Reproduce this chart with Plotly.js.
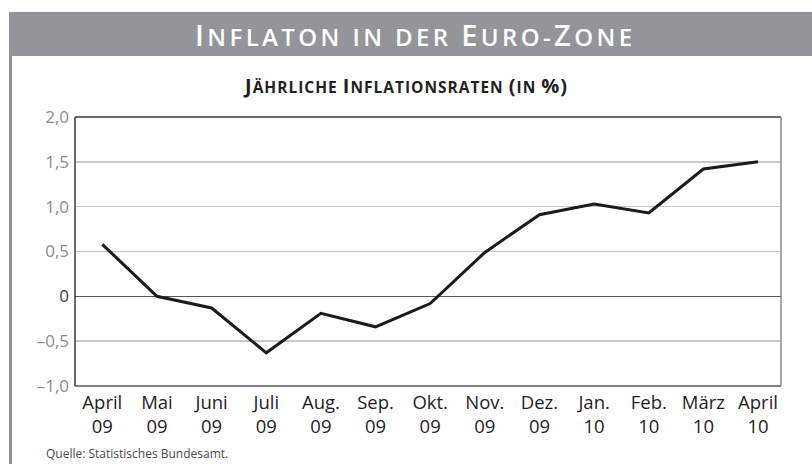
<!DOCTYPE html>
<html>
<head>
<meta charset="utf-8">
<script src="https://cdn.plot.ly/plotly-3.0.1.min.js"></script>
<style>
html,body{margin:0;padding:0;background:#fff;}
#chart{width:812px;height:464px;}
</style>
</head>
<body>
<div id="chart"></div>
<script>
const months = ["April","Mai","Juni","Juli","Aug.","Sep.","Okt.","Nov.","Dez.","Jan.","Feb.","März","April"];
const years = ["09","09","09","09","09","09","09","09","09","10","10","10","10"];
const rates = [0.58, 0.0, -0.13, -0.63, -0.19, -0.34, -0.08, 0.49, 0.91, 1.03, 0.93, 1.42, 1.5];
const yTickVals = [-1, -0.5, 0, 0.5, 1, 1.5, 2];
const yTickText = ["–1,0","–0,5","<span style='color:#3a3a3a'>0</span>","0,5","1,0","1,5","2,0"];

const categories = months.map((m, i) => m + "<br>" + years[i]);

// pixel helpers for paper coords (plot area: x 75..781, y 117..386)
const L = 75, R = 781, T = 117, B = 386;
const px = x => (x - L) / (R - L);
const py = y => (B - y) / (B - T);

const FONT = "Open Sans, Liberation Sans, sans-serif";

const trace = {
  x: categories,
  y: rates,
  type: "scatter",
  mode: "lines",
  line: {color: "#1b1b1b", width: 3},
  hoverinfo: "skip"
};

function sc(big, small, ls, parts) {
  return parts.map(p => "<span style='font-size:" + (p[0] ? big : small) + "px;letter-spacing:" + ls + "px'>" + p[1] + "</span>").join("");
}

const titleText = sc(29, 24, 3.4, [
  [1, "I"], [0, "NFLATON IN DER "], [1, "E"], [0, "URO-"], [1, "Z"], [0, "ONE"]
]);

const subText = sc(20, 15.5, 1, [
  [1, "J"], [0, "ÄHRLICHE "], [1, "I"], [0, "NFLATIONSRATEN "], [1, "("], [0, "IN "], [1, "%)"]
]);

const layout = {
  width: 812,
  height: 464,
  margin: {l: L, r: 812 - R, t: T, b: 464 - B, pad: 0},
  paper_bgcolor: "#ffffff",
  plot_bgcolor: "#ffffff",
  showlegend: false,
  font: {family: FONT, color: "#222"},
  xaxis: {
    type: "category",
    range: [-0.5, 12.42],
    showgrid: false,
    zeroline: false,
    showline: false,
    ticks: "",
    tickfont: {family: FONT, size: 18.5, color: "#1e1e1e"},
    ticklabelstandoff: 3,
    fixedrange: true
  },
  yaxis: {
    range: [-1, 2],
    tickvals: yTickVals,
    ticktext: yTickText,
    showgrid: true,
    gridcolor: "#c8c8c8",
    gridwidth: 1.5,
    zeroline: true,
    zerolinecolor: "#555555",
    zerolinewidth: 1.5,
    showline: false,
    ticks: "",
    tickfont: {family: FONT, size: 17, color: "#8c8c8c"},
    ticklabelstandoff: 5,
    fixedrange: true
  },
  shapes: [
    {type: "rect", xref: "paper", yref: "paper", x0: px(9), x1: px(812), y0: py(56), y1: py(12),
     fillcolor: "#939598", line: {width: 0}, layer: "below"},
    {type: "rect", xref: "paper", yref: "paper", x0: px(9), x1: px(12), y0: py(464), y1: py(56),
     fillcolor: "#939598", line: {width: 0}, layer: "below"},
    {type: "line", xref: "paper", yref: "paper", x0: 0, x1: 1, y0: 1, y1: 1, line: {color: "#3a3a3a", width: 1.5}},
    {type: "line", xref: "paper", yref: "paper", x0: 0, x1: 0, y0: 0, y1: 1, line: {color: "#3a3a3a", width: 1.5}},
    {type: "line", xref: "paper", yref: "paper", x0: 0, x1: 1, y0: 0, y1: 0, line: {color: "#555555", width: 1.5}},
    {type: "line", xref: "paper", yref: "paper", x0: 1, x1: 1, y0: 0, y1: 1, line: {color: "#8a8a8a", width: 1.5}}
  ],
  annotations: [
    {text: titleText, xref: "paper", yref: "paper", x: px(415), y: py(34.5), xanchor: "center", yanchor: "middle",
     showarrow: false, font: {family: FONT, size: 24, color: "#ffffff", weight: 600}},
    {text: subText, xref: "paper", yref: "paper", x: px(405), y: py(85), xanchor: "center", yanchor: "middle",
     showarrow: false, font: {family: FONT, size: 16, color: "#231f20", weight: 700}},
    {text: "Quelle: Statistisches Bundesamt.", xref: "paper", yref: "paper", x: px(44), y: py(453),
     xanchor: "left", yanchor: "middle", showarrow: false, font: {family: FONT, size: 12, color: "#4a4a4a"}}
  ]
};

Plotly.newPlot("chart", [trace], layout, {displayModeBar: false, staticPlot: true});
</script>
</body>
</html>
